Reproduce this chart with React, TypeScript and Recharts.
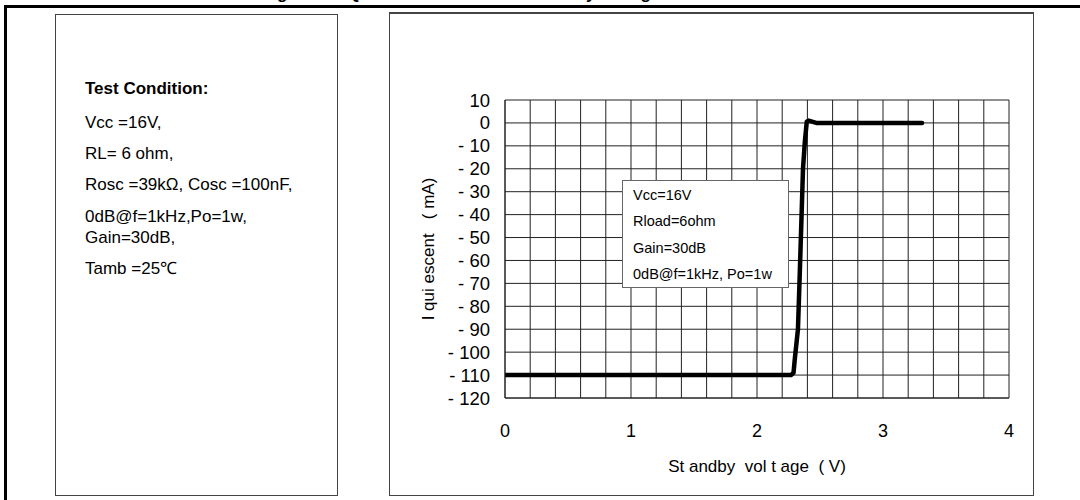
import React from "react";
import { LineChart, Line, XAxis, YAxis, CartesianGrid, ReferenceLine, Label } from "recharts";

const volts = [0, 2.27, 2.29, 2.3, 2.325, 2.337, 2.35, 2.365, 2.38, 2.395, 2.41, 2.47, 3.31];
const current = [-110, -110, -109, -103, -90, -70, -47, -20, -8, 0.5, 1, 0, 0];

const xTicks = [0, 1, 2, 3, 4];
const yTicks = [10, 0, -10, -20, -30, -40, -50, -60, -70, -80, -90, -100, -110, -120];
const gridX = [0, 0.2, 0.4, 0.6, 0.8, 1, 1.2, 1.4, 1.6, 1.8, 2, 2.2, 2.4, 2.6, 2.8, 3, 3.2, 3.4, 3.6, 3.8, 4];

const conditionTitle = "Test Condition:";
const conditionLines = [
  "Vcc =16V,",
  "RL= 6 ohm,",
  "Rosc =39k\u03a9, Cosc =100nF,",
  "0dB@f=1kHz,Po=1w,\nGain=30dB,",
  "Tamb =25\u2103",
];
const noteLines = ["Vcc=16V", "Rload=6ohm", "Gain=30dB", "0dB@f=1kHz, Po=1w"];

const pageTitle = "Figure 31. Quiescent Current vs. Standby Voltage";
const xTitle = "St andby\u00a0 vol t age\u00a0 ( V)";
const yTitle = "I qui escent\u00a0\u00a0 ( mA)";

const data = volts.map((v, i) => ({ v, c: current[i] }));

const FONT = '"Liberation Sans", Arial, Helvetica, sans-serif';

const fmtY = (v: number) => (v < 0 ? `- ${-v}` : `${v}`);

export default function App() {
  return (
    <div style={{ position: "absolute", left: 0, top: 0, width: 1080, height: 500, overflow: "hidden", background: "#fff", fontFamily: FONT }}>
      <svg width={1080} height={500} style={{ position: "absolute", left: 0, top: 0 }}>
        <text x={262} y={-1} fontFamily={FONT} fontWeight="bold" fontSize={17} fill="#000">{pageTitle}</text>
        <line x1={5.5} y1={6.5} x2={1080} y2={6.5} stroke="#000" strokeWidth={3} />
        <line x1={5.5} y1={5} x2={5.5} y2={500} stroke="#000" strokeWidth={3} />
      </svg>

      {/* left panel */}
      <div style={{ position: "absolute", left: 55, top: 14, width: 283, height: 482, border: "1px solid #444", boxSizing: "border-box" }} />
      <div style={{ position: "absolute", left: 85, top: 79, fontSize: 17, fontWeight: "bold", lineHeight: "20px", color: "#000" }}>{conditionTitle}</div>
      {conditionLines.map((t, i) => {
        const tops = [112, 143, 174, 206, 258];
        return (
          <div key={i} style={{ position: "absolute", left: 85, top: tops[i], fontSize: 17, lineHeight: "21px", whiteSpace: "pre", color: "#000" }}>{t}</div>
        );
      })}

      {/* right panel */}
      <div style={{ position: "absolute", left: 389, top: 12, width: 645, height: 484, border: "1.5px solid #444", borderTop: "2px solid #444", boxSizing: "border-box" }} />
      <div style={{ position: "absolute", left: 389, top: 12 }}>
        <LineChart width={645} height={484} data={data} margin={{ top: 88, right: 25, bottom: 24, left: 36 }}>
          <CartesianGrid vertical={false} stroke="#222" strokeWidth={1} />
          {gridX.map((g) => (
            <ReferenceLine key={g} x={g} stroke="#222" strokeWidth={1} ifOverflow="extendDomain" />
          ))}
          <XAxis
            dataKey="v"
            type="number"
            domain={[0, 4]}
            ticks={xTicks}
            tickSize={0}
            tickMargin={26}
            height={74}
            axisLine={{ stroke: "#222" }}
            tick={{ fill: "#000", fontSize: 18, fontFamily: FONT }}
            allowDataOverflow
          >
            <Label value={xTitle} position="insideBottom" offset={0} style={{ fill: "#000", fontSize: 17, fontFamily: FONT }} />
          </XAxis>
          <YAxis
            type="number"
            domain={[-120, 10]}
            ticks={yTicks}
            interval={0}
            tickFormatter={fmtY}
            tickSize={0}
            tickMargin={15}
            width={80}
            axisLine={{ stroke: "#222" }}
            tick={{ fill: "#000", fontSize: 18.5, fontFamily: FONT }}
            allowDataOverflow
          >
            <Label value={yTitle} angle={-90} position="insideLeft" offset={3} style={{ textAnchor: "middle", fill: "#000", fontSize: 17, fontFamily: FONT }} />
          </YAxis>
          <Line
            dataKey="c"
            type="linear"
            stroke="#000"
            strokeWidth={4.5}
            strokeLinejoin="round"
            strokeLinecap="round"
            dot={false}
            activeDot={false}
            isAnimationActive={false}
          />
        </LineChart>
      </div>

      {/* note box */}
      <div style={{ position: "absolute", left: 622, top: 180, width: 167, height: 108, border: "1.5px solid #666", boxSizing: "border-box", background: "#fff" }}>
        {noteLines.map((t, i) => (
          <div key={i} style={{ position: "absolute", left: 10, top: 6 + i * 26.3, fontSize: 14.5, lineHeight: "17px", whiteSpace: "nowrap", color: "#000" }}>{t}</div>
        ))}
      </div>
    </div>
  );
}
